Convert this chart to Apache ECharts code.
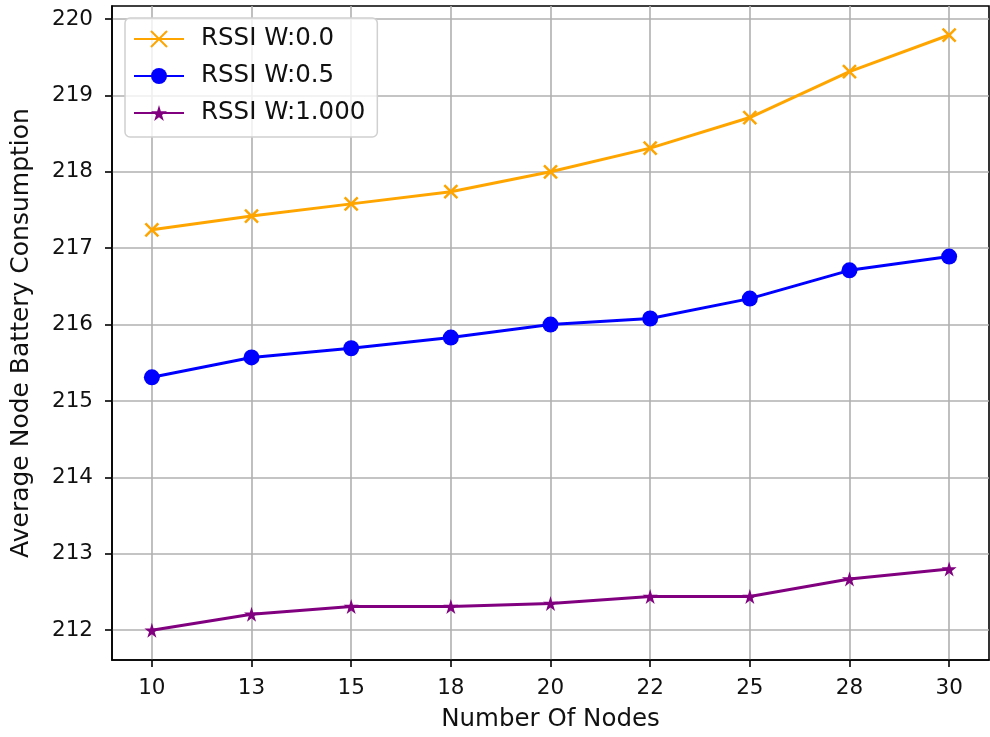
<!DOCTYPE html>
<html>
<head>
<meta charset="utf-8">
<script src="https://cdn.jsdelivr.net/npm/echarts@6/dist/echarts.min.js"></script>
<style>
  html, body { margin: 0; padding: 0; background: #fff; }
  #chart { width: 990px; height: 737px; }
</style>
</head>
<body>
<div id="chart"></div>
<script>
// 节点数量（等距分类）
var nodeCounts = [10, 13, 15, 18, 20, 22, 25, 28, 30]
var yTicks = [212, 213, 214, 215, 216, 217, 218, 219, 220]
var seriesNames = ['RSSI W:0.0', 'RSSI W:0.5', 'RSSI W:1.000']
var rssi00 = [217.24, 217.42, 217.58, 217.74, 218.0, 218.31, 218.71, 219.31, 219.79]
var rssi05 = [215.31, 215.57, 215.69, 215.83, 216.0, 216.08, 216.34, 216.71, 216.89]
var rssi10 = [212.0, 212.21, 212.31, 212.31, 212.35, 212.44, 212.44, 212.67, 212.8]

var xIdx = nodeCounts.map(function(v, i) { return i })
var toPoints = function(arr) {
  return arr.map(function(v, i) { return [i, v] })
}

var crossPath = 'path://M0,0L10,10M10,0L0,10'
var starPath = 'path://M50,0L61,35L98,35L68,57L79,91L50,70L21,91L32,57L2,35L39,35Z'
var font = 'DejaVu Sans'

var option = {
  animation: false,
  backgroundColor: '#fff',
  textStyle: { fontFamily: font },
  grid: {
    left: 112,
    right: 1,
    top: 6,
    bottom: 76,
    show: true,
    borderColor: '#000',
    borderWidth: 1.6,
  },
  legend: {
    orient: 'vertical',
    left: 125,
    top: 18,
    padding: [8, 12, 11, 8],
    itemWidth: 50,
    itemHeight: 20,
    itemGap: 11,
    backgroundColor: 'rgba(255,255,255,0.8)',
    borderColor: '#d0d0d0',
    borderWidth: 1.5,
    borderRadius: 5,
    textStyle: { fontFamily: font, fontSize: 24.5, lineHeight: 26, color: '#111', padding: [0, 0, 0, 12] },
    data: seriesNames,
  },
  xAxis: {
    type: 'value',
    min: -0.4,
    max: 8.4,
    name: 'Number Of Nodes',
    nameLocation: 'middle',
    nameGap: 47,
    nameTextStyle: { fontFamily: font, fontSize: 24.5, color: '#111' },
    axisLine: { show: true, onZero: false, lineStyle: { color: '#000', width: 1.6 } },
    axisTick: { show: true, customValues: xIdx, length: 7, lineStyle: { color: '#000', width: 1.6 } },
    axisLabel: {
      customValues: xIdx,
      fontSize: 21.5,
      color: '#111',
      margin: 17,
      formatter: function(v) { return nodeCounts[Math.round(v)] },
    },
    splitLine: { show: true, lineStyle: { color: '#b0b0b0', width: 1.6 } },
  },
  yAxis: {
    type: 'value',
    min: 211.61,
    max: 220.17,
    name: 'Average Node Battery Consumption',
    nameLocation: 'middle',
    nameGap: 78,
    nameTextStyle: { fontFamily: font, fontSize: 25, color: '#111' },
    axisLine: { show: true, onZero: false, lineStyle: { color: '#000', width: 1.6 } },
    axisTick: { show: true, customValues: yTicks, length: 7, lineStyle: { color: '#000', width: 1.6 } },
    axisLabel: { customValues: yTicks, fontSize: 21.5, color: '#111', margin: 19 },
    splitLine: { show: true, lineStyle: { color: '#b0b0b0', width: 1.6 } },
  },
  series: [
    {
      name: seriesNames[0],
      type: 'line',
      data: toPoints(rssi00),
      symbol: crossPath,
      symbolSize: 13,
      lineStyle: { color: '#FFA500', width: 3 },
      itemStyle: { color: '#FFA500', borderColor: '#FFA500', borderWidth: 2.5 },
    },
    {
      name: seriesNames[1],
      type: 'line',
      data: toPoints(rssi05),
      symbol: 'circle',
      symbolSize: 16,
      lineStyle: { color: '#0000FF', width: 3 },
      itemStyle: { color: '#0000FF' },
    },
    {
      name: seriesNames[2],
      type: 'line',
      data: toPoints(rssi10),
      symbol: starPath,
      symbolSize: 15,
      lineStyle: { color: '#800080', width: 3 },
      itemStyle: { color: '#800080' },
    },
  ],
}

var myChart = echarts.init(document.getElementById('chart'))
myChart.setOption(option)
</script>
</body>
</html>
